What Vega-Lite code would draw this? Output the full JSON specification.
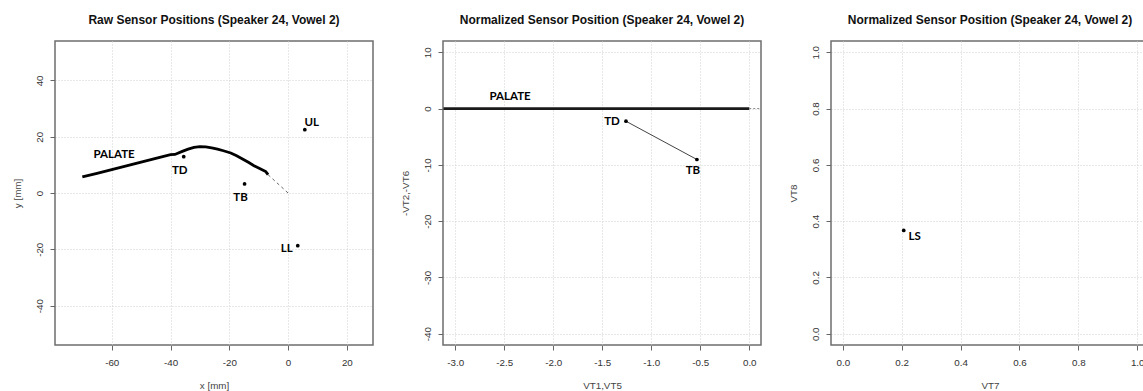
{
  "$schema": "https://vega.github.io/schema/vega-lite/v6.json",
  "background": "white",
  "padding": {"left": 11, "top": 13, "right": 0, "bottom": 0},
  "spacing": 70,
  "bounds": "flush",
  "datasets": {
    "raw_palate": [
      {"x": -70, "y": 5.7}, {"x": -65, "y": 7.0}, {"x": -60, "y": 8.3}, {"x": -55, "y": 9.6},
      {"x": -50, "y": 11.0}, {"x": -45, "y": 12.3}, {"x": -40, "y": 13.6}, {"x": -38.5, "y": 13.7},
      {"x": -36, "y": 14.8}, {"x": -34, "y": 15.6}, {"x": -32, "y": 16.2}, {"x": -30, "y": 16.5},
      {"x": -28, "y": 16.4}, {"x": -26, "y": 16.0}, {"x": -24, "y": 15.6}, {"x": -22, "y": 15.0},
      {"x": -19.5, "y": 14.2}, {"x": -17.5, "y": 13.2}, {"x": -15.5, "y": 12.1}, {"x": -13.5, "y": 10.9},
      {"x": -11.6, "y": 9.7}, {"x": -9.5, "y": 8.6}, {"x": -7.6, "y": 7.6}, {"x": -6.8, "y": 6.5}
    ],
    "raw_guide": [
      {"x": -6.8, "y": 6.5}, {"x": 0, "y": 0}
    ],
    "raw_sensors": [
      {"sensor": "TD", "x": -35.5, "y": 12.9},
      {"sensor": "TB", "x": -14.8, "y": 3.2},
      {"sensor": "UL", "x": 5.7, "y": 22.5},
      {"sensor": "LL", "x": 3.3, "y": -18.7}
    ],
    "raw_names": [
      {"name": "PALATE", "x": -59.2, "y": 13.4}
    ],
    "norm_palate": [
      {"x": -3.12, "y": 0}, {"x": -2.0, "y": 0}, {"x": -1.0, "y": 0}, {"x": 0, "y": 0}
    ],
    "norm_guide": [
      {"x": 0, "y": 0}, {"x": 0.12, "y": 0}
    ],
    "norm_tongue": [
      {"sensor": "TD", "x": -1.258, "y": -2.25},
      {"sensor": "TB", "x": -0.534, "y": -9.05}
    ],
    "norm_names": [
      {"name": "PALATE", "x": -2.44, "y": 2.13}
    ],
    "norm_lips": [
      {"sensor": "LS", "x": 0.207, "y": 0.367}
    ]
  },
  "hconcat": [
    {
      "width": 318,
      "height": 304,
      "title": "Raw Sensor Positions (Speaker 24, Vowel 2)",
      "layer": [
        {
          "data": {"name": "raw_palate"},
          "mark": {"type": "line", "color": "black", "strokeWidth": 2.8, "clip": true},
          "encoding": {
            "x": {"field": "x", "type": "quantitative", "title": "x [mm]",
                  "scale": {"domain": [-79.3, 28.9], "nice": false, "zero": false},
                  "axis": {"values": [-60, -40, -20, 0, 20], "labelExpr": "replace(format(datum.value, 'd'), '\u2212', '-')"}},
            "y": {"field": "y", "type": "quantitative", "title": "y [mm]",
                  "scale": {"domain": [-54, 54], "nice": false, "zero": false},
                  "axis": {"values": [-40, -20, 0, 20, 40], "labelExpr": "replace(format(datum.value, 'd'), '\u2212', '-')"}}
          }
        },
        {
          "data": {"name": "raw_guide"},
          "mark": {"type": "line", "color": "#666", "strokeWidth": 1, "strokeDash": [3, 3]},
          "encoding": {"x": {"field": "x", "type": "quantitative"}, "y": {"field": "y", "type": "quantitative"}}
        },
        {
          "data": {"name": "raw_sensors"},
          "mark": {"type": "point", "filled": true, "color": "black", "size": 14, "opacity": 1},
          "encoding": {"x": {"field": "x", "type": "quantitative"}, "y": {"field": "y", "type": "quantitative"}}
        },
        {
          "data": {"name": "raw_sensors"},
          "transform": [{"filter": "datum.sensor === 'TD' || datum.sensor === 'TB'"}],
          "mark": {"type": "text", "font": "Lato", "fontWeight": "bold", "fontSize": 11.5, "color": "black", "dx": -4, "dy": 14},
          "encoding": {"x": {"field": "x", "type": "quantitative"}, "y": {"field": "y", "type": "quantitative"}, "text": {"field": "sensor"}}
        },
        {
          "data": {"name": "raw_sensors"},
          "transform": [{"filter": "datum.sensor === 'UL'"}],
          "mark": {"type": "text", "font": "Lato", "fontWeight": "bold", "fontSize": 11.5, "color": "black", "dx": 7, "dy": -7},
          "encoding": {"x": {"field": "x", "type": "quantitative"}, "y": {"field": "y", "type": "quantitative"}, "text": {"field": "sensor"}}
        },
        {
          "data": {"name": "raw_sensors"},
          "transform": [{"filter": "datum.sensor === 'LL'"}],
          "mark": {"type": "text", "font": "Lato", "fontWeight": "bold", "fontSize": 11.5, "color": "black", "dx": -11, "dy": 3},
          "encoding": {"x": {"field": "x", "type": "quantitative"}, "y": {"field": "y", "type": "quantitative"}, "text": {"field": "sensor"}}
        },
        {
          "data": {"name": "raw_names"},
          "mark": {"type": "text", "font": "Lato", "fontWeight": "bold", "fontSize": 11.5, "color": "black"},
          "encoding": {"x": {"field": "x", "type": "quantitative"}, "y": {"field": "y", "type": "quantitative"}, "text": {"field": "name"}}
        }
      ]
    },
    {
      "width": 318,
      "height": 304,
      "title": "Normalized Sensor Position (Speaker 24, Vowel 2)",
      "layer": [
        {
          "data": {"name": "norm_palate"},
          "mark": {"type": "line", "color": "#1a1a1a", "strokeWidth": 2.8, "clip": true},
          "encoding": {
            "x": {"field": "x", "type": "quantitative", "title": "VT1,VT5",
                  "scale": {"domain": [-3.125, 0.12], "nice": false, "zero": false},
                  "axis": {"values": [-3, -2.5, -2, -1.5, -1, -0.5, 0], "labelExpr": "replace(format(datum.value, '.1f'), '\u2212', '-')"}},
            "y": {"field": "y", "type": "quantitative", "title": "-VT2,-VT6",
                  "scale": {"domain": [-42, 12], "nice": false, "zero": false},
                  "axis": {"values": [-40, -30, -20, -10, 0, 10], "labelExpr": "replace(format(datum.value, 'd'), '\u2212', '-')"}}
          }
        },
        {
          "data": {"name": "norm_guide"},
          "mark": {"type": "line", "color": "#888", "strokeWidth": 1, "strokeDash": [2, 2], "clip": true},
          "encoding": {"x": {"field": "x", "type": "quantitative"}, "y": {"field": "y", "type": "quantitative"}}
        },
        {
          "data": {"name": "norm_tongue"},
          "mark": {"type": "line", "color": "#444", "strokeWidth": 1},
          "encoding": {"x": {"field": "x", "type": "quantitative"}, "y": {"field": "y", "type": "quantitative"}}
        },
        {
          "data": {"name": "norm_tongue"},
          "mark": {"type": "point", "filled": true, "color": "black", "size": 14, "opacity": 1},
          "encoding": {"x": {"field": "x", "type": "quantitative"}, "y": {"field": "y", "type": "quantitative"}}
        },
        {
          "data": {"name": "norm_tongue"},
          "transform": [{"filter": "datum.sensor === 'TD'"}],
          "mark": {"type": "text", "font": "Lato", "fontWeight": "bold", "fontSize": 11.5, "color": "black", "dx": -14, "dy": 1},
          "encoding": {"x": {"field": "x", "type": "quantitative"}, "y": {"field": "y", "type": "quantitative"}, "text": {"field": "sensor"}}
        },
        {
          "data": {"name": "norm_tongue"},
          "transform": [{"filter": "datum.sensor === 'TB'"}],
          "mark": {"type": "text", "font": "Lato", "fontWeight": "bold", "fontSize": 11.5, "color": "black", "dx": -4, "dy": 11},
          "encoding": {"x": {"field": "x", "type": "quantitative"}, "y": {"field": "y", "type": "quantitative"}, "text": {"field": "sensor"}}
        },
        {
          "data": {"name": "norm_names"},
          "mark": {"type": "text", "font": "Lato", "fontWeight": "bold", "fontSize": 11.5, "color": "black"},
          "encoding": {"x": {"field": "x", "type": "quantitative"}, "y": {"field": "y", "type": "quantitative"}, "text": {"field": "name"}}
        }
      ]
    },
    {
      "width": 318,
      "height": 304,
      "title": "Normalized Sensor Position (Speaker 24, Vowel 2)",
      "layer": [
        {
          "data": {"name": "norm_lips"},
          "mark": {"type": "point", "filled": true, "color": "black", "size": 14, "opacity": 1},
          "encoding": {
            "x": {"field": "x", "type": "quantitative", "title": "VT7",
                  "scale": {"domain": [-0.04, 1.04], "nice": false, "zero": false},
                  "axis": {"values": [0, 0.2, 0.4, 0.6, 0.8, 1], "format": ".1f"}},
            "y": {"field": "y", "type": "quantitative", "title": "VT8",
                  "scale": {"domain": [-0.04, 1.04], "nice": false, "zero": false},
                  "axis": {"values": [0, 0.2, 0.4, 0.6, 0.8, 1], "format": ".1f"}}
          }
        },
        {
          "data": {"name": "norm_lips"},
          "mark": {"type": "text", "font": "Lato", "fontWeight": "bold", "fontSize": 11.5, "color": "black", "dx": 11, "dy": 7},
          "encoding": {"x": {"field": "x", "type": "quantitative"}, "y": {"field": "y", "type": "quantitative"}, "text": {"field": "sensor"}}
        }
      ]
    }
  ],
  "config": {
    "font": "Liberation Sans",
    "view": {"stroke": "#6e6e6e", "strokeWidth": 1.5},
    "title": {"font": "Liberation Sans", "fontSize": 12, "fontWeight": "bold", "color": "#111", "anchor": "middle", "frame": "group", "offset": 14},
    "axis": {
      "grid": true, "gridColor": "#d0d0d0", "gridDash": [1, 2], "gridWidth": 1,
      "domain": false, "tickColor": "#666", "tickSize": 5, "tickWidth": 1,
      "labelFont": "Liberation Sans", "labelFontSize": 9.8, "labelColor": "#333",
      "titleFont": "Liberation Sans", "titleFontSize": 9.8, "titleFontWeight": "normal", "titleColor": "#444"
    },
    "axisX": {"labelPadding": 7, "titlePadding": 14},
    "axisY": {"labelAngle": -90, "labelAlign": "center", "labelBaseline": "bottom", "labelPadding": 6, "titlePadding": 12}
  }
}
